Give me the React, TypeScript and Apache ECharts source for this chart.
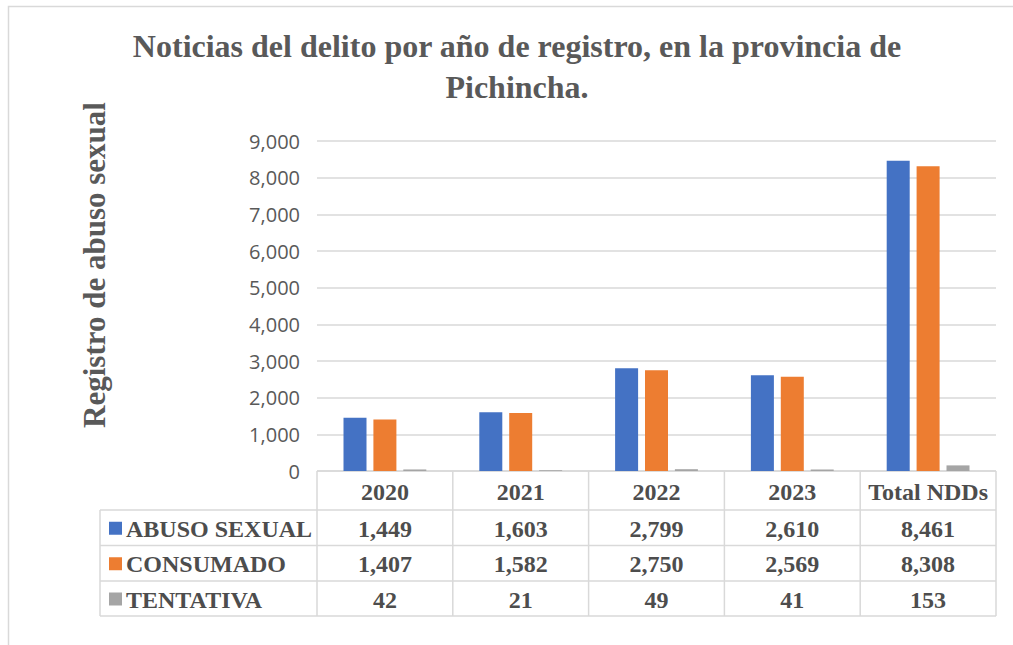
import React, { useEffect, useRef } from "react";
import * as echarts from "echarts";

const categories = ["2020", "2021", "2022", "2023", "Total NDDs"];
const seriesNames = ["ABUSO SEXUAL", "CONSUMADO", "TENTATIVA"];
const abusoSexual = [1449, 1603, 2799, 2610, 8461];
const consumado = [1407, 1582, 2750, 2569, 8308];
const tentativa = [42, 21, 49, 41, 153];
const colors = ["#4472C4", "#ED7D31", "#A5A5A5"];
const yTicks = { min: 0, max: 9000, interval: 1000 };
const titleText = "Noticias del delito por año de registro, en la provincia de\nPichincha.";
const yAxisName = "Registro de abuso sexual";

const fmt = (v: number) => v.toLocaleString("en-US");

export default function App() {
  const ref = useRef<HTMLDivElement>(null);
  useEffect(() => {
    if (!ref.current) return;
    const chart = echarts.init(ref.current, null, { renderer: "svg" });
    const allSeries = [abusoSexual, consumado, tentativa];

    const plotLeft = 317;
    const plotRight = 996;
    const colW = (plotRight - plotLeft) / categories.length;
    const tableLeft = 100;
    const rowY = [471, 510, 545.5, 581, 616];
    const lineColor = "#d9d9d9";
    const textColor = "#4d4d4d";
    const serif = "'Liberation Serif', 'Times New Roman', serif";
    const tableFont = `bold 24px ${serif}`;

    const g: any[] = [];
    g.push({
      type: "rect",
      shape: { x: 8.5, y: 6.5, width: 1010, height: 700 },
      style: { fill: "none", stroke: lineColor, lineWidth: 1.5 },
      silent: true,
    });
    g.push({
      type: "text",
      x: 94,
      y: 265,
      rotation: Math.PI / 2,
      style: {
        text: yAxisName,
        font: `bold 31px ${serif}`,
        fill: "#595959",
        align: "center",
        verticalAlign: "middle",
      },
    });
    g.push({
      type: "line",
      shape: { x1: plotLeft, y1: rowY[0], x2: plotRight, y2: rowY[0] },
      style: { stroke: lineColor, lineWidth: 1.5 },
    });
    for (let i = 1; i < rowY.length; i++) {
      g.push({
        type: "line",
        shape: { x1: tableLeft, y1: rowY[i], x2: plotRight, y2: rowY[i] },
        style: { stroke: lineColor, lineWidth: 1.5 },
      });
    }
    g.push({
      type: "line",
      shape: { x1: tableLeft, y1: rowY[1], x2: tableLeft, y2: rowY[4] },
      style: { stroke: lineColor, lineWidth: 1.5 },
    });
    for (let c = 0; c <= categories.length; c++) {
      const x = plotLeft + c * colW;
      g.push({
        type: "line",
        shape: { x1: x, y1: rowY[0], x2: x, y2: rowY[4] },
        style: { stroke: lineColor, lineWidth: 1.5 },
      });
    }
    categories.forEach((cat, c) => {
      g.push({
        type: "text",
        x: plotLeft + (c + 0.5) * colW,
        y: (rowY[0] + rowY[1]) / 2 + 1,
        style: {
          text: cat,
          font: tableFont,
          fill: textColor,
          align: "center",
          verticalAlign: "middle",
        },
      });
    });
    seriesNames.forEach((name, r) => {
      const cy = (rowY[r + 1] + rowY[r + 2]) / 2 + 1;
      g.push({
        type: "rect",
        shape: { x: 109, y: cy - 7, width: 13, height: 13 },
        style: { fill: colors[r] },
      });
      g.push({
        type: "text",
        x: 126,
        y: cy,
        style: {
          text: name,
          font: tableFont,
          fill: textColor,
          align: "left",
          verticalAlign: "middle",
        },
      });
      allSeries[r].forEach((v, c) => {
        g.push({
          type: "text",
          x: plotLeft + (c + 0.5) * colW,
          y: cy,
          style: {
            text: fmt(v),
            font: tableFont,
            fill: textColor,
            align: "center",
            verticalAlign: "middle",
          },
        });
      });
    });

    chart.setOption({
      animation: false,
      backgroundColor: "#ffffff",
      title: {
        text: titleText,
        left: 512,
        textAlign: "center",
        top: 20,
        textStyle: {
          fontFamily: serif,
          fontWeight: "bold",
          fontSize: 32,
          lineHeight: 41,
          color: "#595959",
        },
      },
      grid: { left: plotLeft, right: 1013 - plotRight, top: 141, bottom: 645 - 471 },
      xAxis: {
        type: "category",
        data: categories,
        axisLabel: { show: false },
        axisTick: { show: false },
        axisLine: { show: false },
      },
      yAxis: {
        type: "value",
        min: yTicks.min,
        max: yTicks.max,
        interval: yTicks.interval,
        axisLabel: {
          formatter: (v: number) => fmt(v),
          fontFamily: "'Open Sans', 'Noto Sans', sans-serif",
          fontSize: 20,
          color: "#595959",
          margin: 17,
        },
        splitLine: { lineStyle: { color: lineColor, width: 1.5 } },
        axisLine: { show: false },
        axisTick: { show: false },
      },
      series: allSeries.map((d, i) => ({
        name: seriesNames[i],
        type: "bar",
        data: d,
        barWidth: 23,
        barGap: "30%",
        itemStyle: { color: colors[i] },
      })),
      graphic: g,
    });
    return () => chart.dispose();
  }, []);
  return (
    <div
      ref={ref}
      style={{ position: "fixed", left: 0, top: 0, width: 1013, height: 645, background: "#fff" }}
    />
  );
}
